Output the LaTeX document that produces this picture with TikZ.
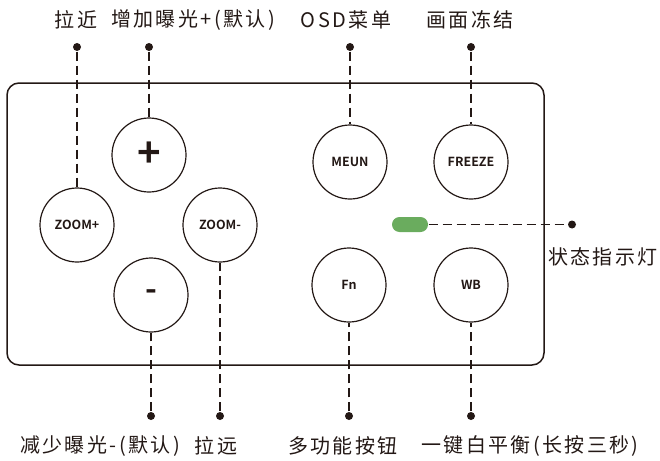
\documentclass[tikz,border=0pt]{standalone}
\usepackage{fontspec}
\setmainfont{Noto Sans CJK SC}[BoldFont={Noto Sans CJK SC Bold}]
\definecolor{ink}{HTML}{231815}
\definecolor{ledgreen}{HTML}{6AAC5E}

\begin{document}
\begin{tikzpicture}[x = 1pt, y = -1pt, ink, line width = 1.2pt,
    btn/.style = {shape = circle, draw, minimum size = 74pt, inner sep = 0pt,
        font = \fontsize{12.5}{14}\selectfont\bfseries},
    dot/.style = {shape = circle, fill, inner sep = 0pt, minimum size = 8pt},
    led/.style = {shape = rectangle, rounded corners = 7.5pt, fill = ledgreen,
        minimum width = 36pt, minimum height = 15pt, inner sep = 0pt},
    lbl/.style = {inner sep = 0pt,
        font = \fontsize{20}{24}\selectfont\addfontfeatures{LetterSpace=12}},
    lead/.style = {dash pattern = on 9pt off 5pt, line width = 1.1pt}]
    \useasboundingbox (0,0) rectangle (660,460);
    % housing
    \draw[line width = 1.5pt, rounded corners = 12pt] (7,83) rectangle (544,365);
    % buttons
    \node[btn] (zin) at (77,225) {ZOOM+};
    \node[btn, font = \fontsize{40}{40}\selectfont\bfseries] (plus) at (149,155) {+};
    \node[btn] (zout) at (220,225) {ZOOM-};
    \node[btn, font = \fontsize{32}{32}\selectfont\bfseries] (minus) at (151,295) {-};
    \node[btn] (menu) at (350,162) {MEUN};
    \node[btn] (frz) at (471,162) {FREEZE};
    \node[btn] (fn) at (349,285) {Fn};
    \node[btn] (wb) at (471,285) {WB};
    \node[led] (led) at (410,224.5) {};
    % leader dots
    \node[dot] (dzin) at (77,47) {};
    \node[dot] (dplus) at (149,47) {};
    \node[dot] (dmenu) at (350,47) {};
    \node[dot] (dfrz) at (471,47) {};
    \node[dot] (dminus) at (151,416) {};
    \node[dot] (dzout) at (220,416) {};
    \node[dot] (dfn) at (349,416) {};
    \node[dot] (dwb) at (471,416) {};
    \node[dot] (dled) at (572,224.5) {};
    % leaders
    \draw[lead] (dzin) -- (zin);
    \draw[lead] (dplus) -- (plus);
    \draw[lead] (dmenu) -- (menu);
    \draw[lead] (dfrz) -- (frz);
    \draw[lead] (dminus) -- (minus);
    \draw[lead] (dzout) -- (zout);
    \draw[lead] (dfn) -- (fn);
    \draw[lead] (dwb) -- (wb);
    \draw[lead] (led) -- (dled);
    % labels
    \node[lbl] (tzin) at (76,20) {拉近};
    \node[lbl] (tplus) at (193,20) {增加曝光+(默认)};
    \node[lbl] (tmenu) at (346,20) {OSD菜单};
    \node[lbl] (tfrz) at (470,20) {画面冻结};
    \node[lbl] (tminus) at (100,446) {减少曝光-(默认)};
    \node[lbl] (tzout) at (216,446) {拉远};
    \node[lbl] (tfn) at (343,446) {多功能按钮};
    \node[lbl] (twb) at (530,446) {一键白平衡(长按三秒)};
    \node[lbl] (tled) at (603,257) {状态指示灯};
\end{tikzpicture}
\end{document}
